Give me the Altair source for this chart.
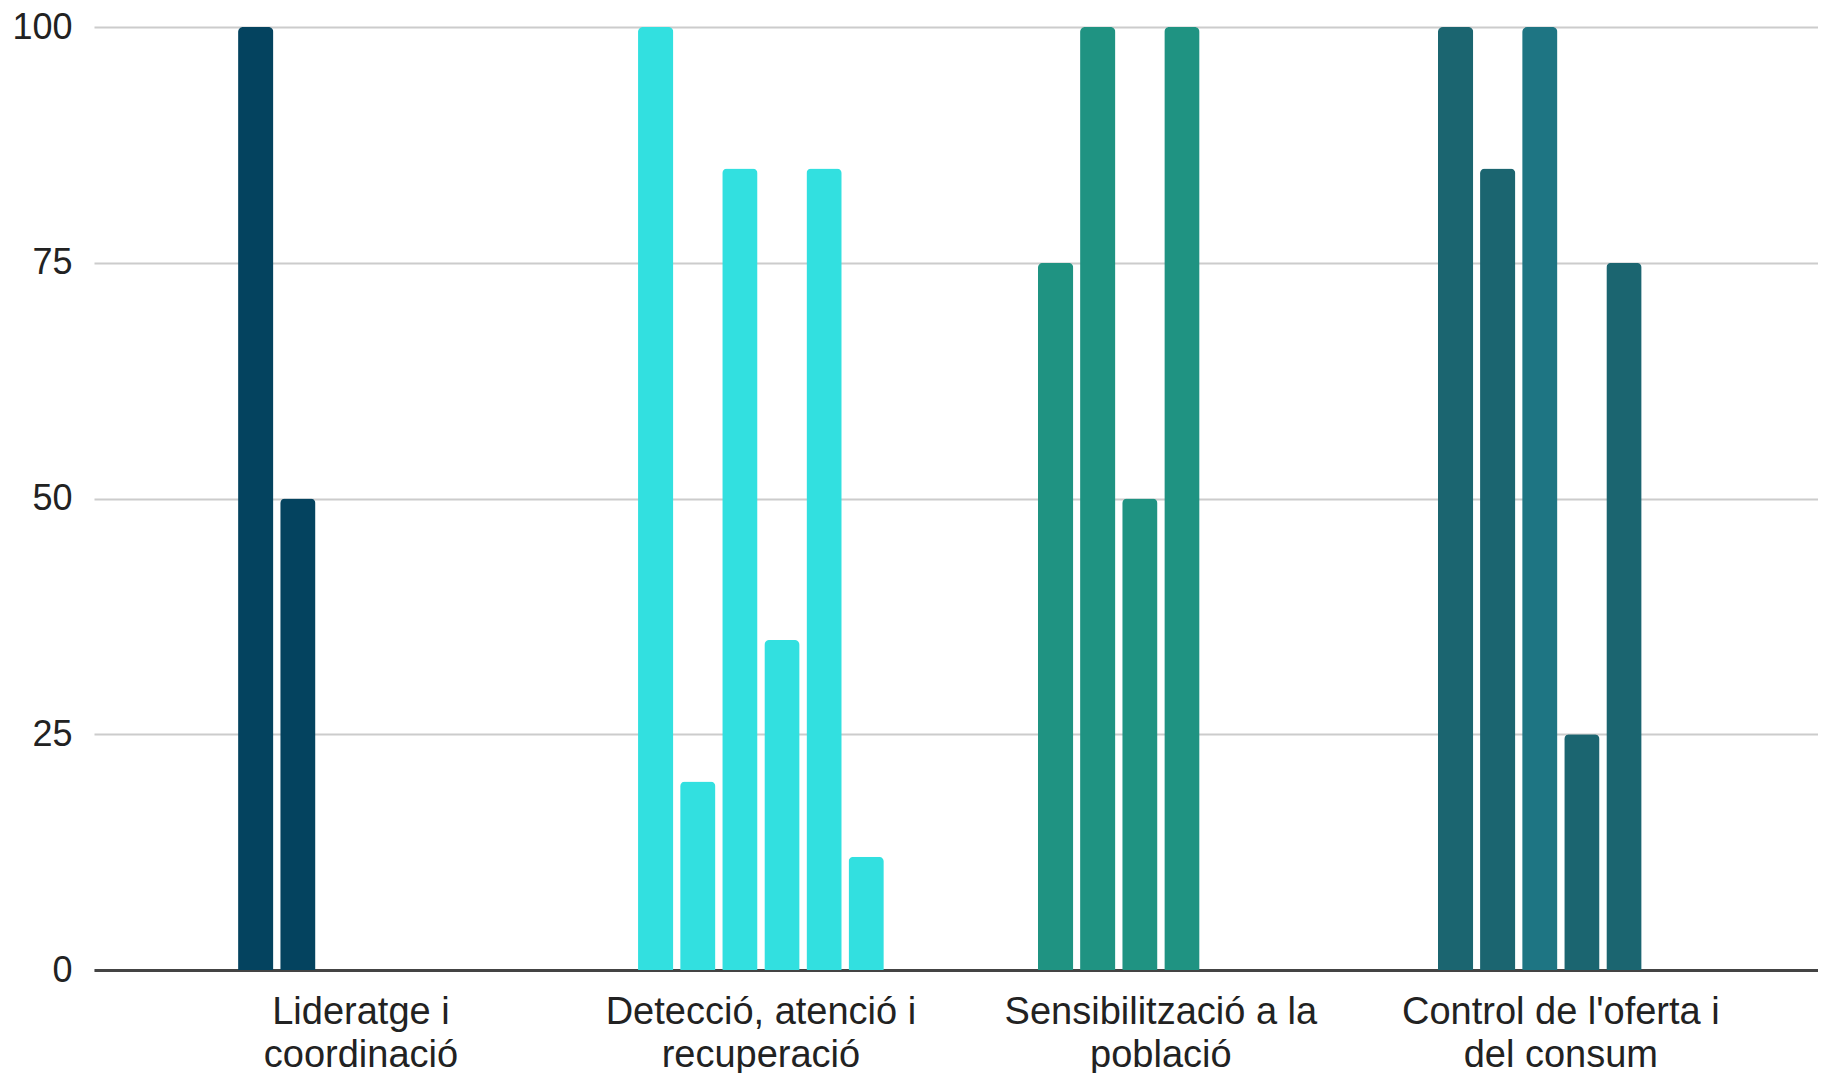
import altair as alt
import pandas as pd

categories = [
    "Lideratge i\ncoordinació",
    "Detecció, atenció i\nrecuperació",
    "Sensibilització a la\npoblació",
    "Control de l'oferta i\ndel consum",
]
values_lideratge = [100, 50]
values_deteccio = [100, 20, 85, 35, 85, 12]
values_sensibilitzacio = [75, 100, 50, 100]
values_control = [100, 85, 100, 25, 75]

colors_lideratge = ["#04435f", "#04435f"]
colors_deteccio = ["#32e0e0"] * 6
colors_sensibilitzacio = ["#1f9382"] * 4
colors_control = ["#1b6570", "#1b6570", "#1e7583", "#1b6570", "#1b6570"]

slots = [1, 2, 3, 4, 5, 6]
y_ticks = [0, 25, 50, 75, 100]

rows = []
for cat, vals, cols in zip(
    categories,
    [values_lideratge, values_deteccio, values_sensibilitzacio, values_control],
    [colors_lideratge, colors_deteccio, colors_sensibilitzacio, colors_control],
):
    for i, (v, c) in enumerate(zip(vals, cols)):
        rows.append({"category": cat, "slot": slots[i], "value": v, "color": c})
df = pd.DataFrame(rows)

font = "Liberation Sans"

chart = (
    alt.Chart(df)
    .mark_bar(cornerRadiusTopLeft=5, cornerRadiusTopRight=5)
    .encode(
        x=alt.X(
            "category:N",
            sort=categories,
            title=None,
            scale=alt.Scale(paddingInner=0.3855, paddingOuter=0.348, align=0.5176),
            axis=alt.Axis(
                labelAngle=0,
                labelFont=font,
                labelFontSize=38,
                labelColor="#222222",
                labelExpr="split(datum.value, '\\n')",
                labelLineHeight=43,
                labelBaseline="top",
                labelPadding=23,
                labelLimit=0,
                ticks=False,
                tickSize=0,
                domainColor="#444444",
                domainWidth=3,
                grid=False,
            ),
        ),
        xOffset=alt.XOffset(
            "slot:O",
            scale=alt.Scale(domain=slots, paddingInner=0.162, paddingOuter=0),
        ),
        y=alt.Y(
            "value:Q",
            title=None,
            scale=alt.Scale(domain=[0, 100], nice=False),
            axis=alt.Axis(
                values=y_ticks,
                labelFont=font,
                labelFontSize=36,
                labelColor="#222222",
                labelPadding=22,
                ticks=False,
                tickSize=0,
                domain=False,
                gridColor="#cccccc",
                gridWidth=2,
            ),
        ),
        color=alt.Color("color:N", scale=None),
    )
    .properties(
        width=1724,
        height=943,
        autosize=alt.AutoSizeParams(type="none"),
        padding={"left": 86, "top": 19, "right": 0, "bottom": 103},
    )
    .configure_view(stroke=None)
)

chart.save("out.html", embed_options={"renderer": "svg", "actions": False})
